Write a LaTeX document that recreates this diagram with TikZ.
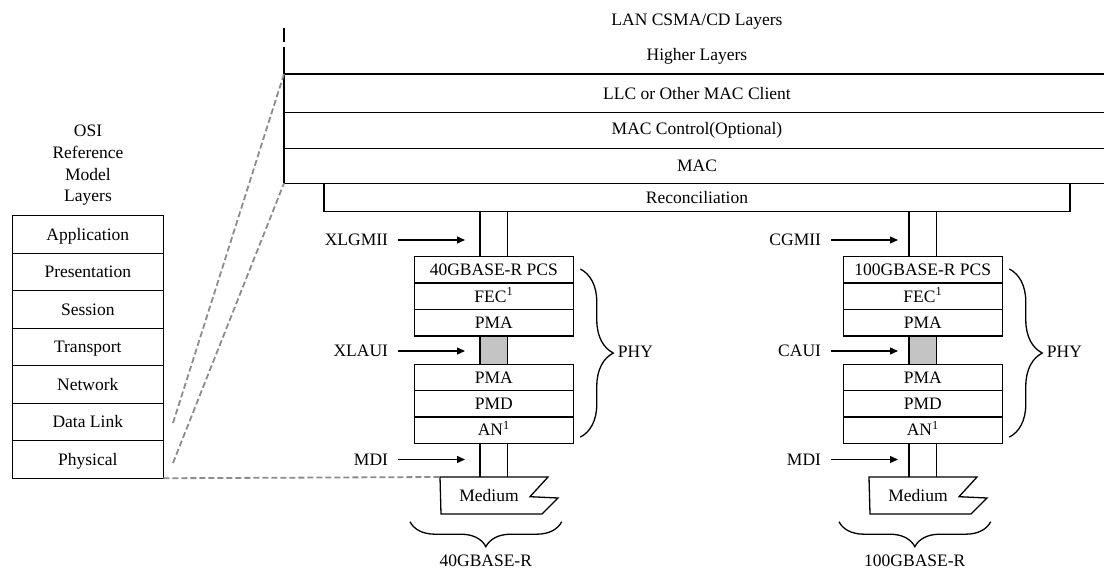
\documentclass[tikz,border=0pt]{standalone}
\usepackage{fontspec}
\setmainfont{Liberation Serif}
\usetikzlibrary{arrows.meta, positioning, decorations.pathreplacing}
\definecolor{cdash}{HTML}{8C8C8C}
\definecolor{cblock}{HTML}{C4C4C4}
\tikzset{
  every picture/.style={line width=1.3pt},
  lbl/.style={font=\fontsize{17.5}{21.7}\selectfont},
  layer/.style={draw, lbl, minimum width=159pt, minimum height=26.4pt, inner sep=0pt, outer sep=0pt, text height=13pt, text depth=1.5pt},
  osi/.style={draw, lbl, minimum width=151pt, minimum height=37.5pt, inner sep=0pt, outer sep=0pt, text height=13pt, text depth=1.5pt},
  arrow/.style={-{Triangle[length=8pt, width=7pt]}},
  link/.style={draw=cdash, line width=1.8pt, dash pattern=on 6pt off 3pt},
  curly/.style={decorate, decoration={brace, amplitude=#1}},
}

\begin{document}
\begin{tikzpicture}[x=1pt, y=-1pt]
  \useasboundingbox (0,0) rectangle (1104,572);
  % OSI reference model
  \node[lbl, align=center] (osit) at (88,165.5) {OSI\\Reference\\Model\\Layers};
  \foreach \t [count=\i] in {Application, Presentation, Session, Transport, Network, Data Link, Physical}
    \node[osi] (o\i) at (87.8, 197+37.5*\i) {\t};
  % LAN CSMA/CD layers
  \node[lbl] (lan) at (697,21.7) {LAN CSMA/CD Layers};
  \node[lbl] (hl) at (697,56.7) {Higher Layers};
  \node[lbl] (llc) at (697,93.3) {LLC or Other MAC Client};
  \node[lbl] (mcc) at (697,130) {MAC Control(Optional)};
  \node[lbl] (mac) at (697,165.7) {MAC};
  \foreach \y in {74,112.5,148.3,183.3} \draw (284,\y) -- (1104,\y);
  \coordinate (llctop) at (284,74);
  \coordinate (macbot) at (284,183.3);
  \draw (284,28) -- (284,42);
  \draw (284,47) -- (macbot);
  \node[draw, lbl, minimum width=746pt, minimum height=28.4pt, inner sep=0pt, outer sep=0pt, text height=13pt, text depth=1.5pt, anchor=north west] (rec) at (324,183.3) {Reconciliation};
  % the two PHY stacks
  \foreach \sx/\lx/\pcs/\mii/\aui/\n in {0/0/40GBASE-R/XLGMII/XLAUI/l, 429/4/100GBASE-R/CGMII/CAUI/r}{
    \begin{scope}[xshift=\sx]
      \node[layer, anchor=north] (\n1) at (493.8,256.7) {\pcs\ PCS};
      \node[layer, below=0pt of \n1] (\n2) {FEC\textsuperscript{1}};
      \node[layer, below=0pt of \n2] (\n3) {PMA};
      \node[draw, fill=cblock, minimum width=27.7pt, minimum height=28.3pt, inner sep=0pt, outer sep=0pt, below=0pt of \n3] (\n g) {};
      \node[layer, below=0pt of \n g] (\n4) {PMA};
      \node[layer, below=0pt of \n4] (\n5) {PMD};
      \node[layer, below=0pt of \n5] (\n6) {AN\textsuperscript{1}};
      % medium
      \node[lbl] (\n m) at (489,496) {Medium};
      \coordinate (\n top) at (440,477);
      \draw (\n top) -- (548,477) -- (530,496.7) -- (558,498) -- (542,514) -- (441,514) -- cycle;
      \coordinate (\n a) at ([xshift=-13.85pt]\n1.north);
      \coordinate (\n b) at ([xshift=13.85pt]\n1.north);
      \coordinate (\n c) at ([xshift=-13.85pt]\n6.south);
      \coordinate (\n d) at ([xshift=13.85pt]\n6.south);
      \draw (\n a) -- (\n a |- rec.south);
      \draw (\n b) -- (\n b |- rec.south);
      \draw (\n c) -- (\n c |- \n top);
      \draw (\n d) -- (\n d |- \n top);
      % interfaces
      \node[lbl, anchor=east] (\n mii) at (392+\lx,240) {\mii};
      \node[lbl, anchor=east] (\n aui) at (392+\lx,351) {\aui};
      \node[lbl, anchor=east] (\n mdi) at (392+\lx,459.5) {MDI};
      \foreach \l in {mii, aui, mdi}
        \draw[arrow] ([xshift=6pt]\n\l.east) -- ([xshift=73pt]\n\l.east);
      % braces
      \draw[curly=33] ([shift={(7,12.3)}]\n1.north east) -- ([shift={(7,-6.3)}]\n6.south east);
      \node[lbl, anchor=west] (\n phy) at (614,352) {PHY};
      \draw[curly=25] (561.7,521.7) -- (410,521.7);
      \node[lbl] (\n base) at (485.8,561) {\pcs};
    \end{scope}}
  % zoom lines
  \coordinate (dl) at (173,423);
  \coordinate (ph) at (173,463);
  \draw[link] (dl) -- (llctop);
  \draw[link] (ph) -- (macbot);
  \draw[link] (o7.south east) -- (ltop);
\end{tikzpicture}
\end{document}
